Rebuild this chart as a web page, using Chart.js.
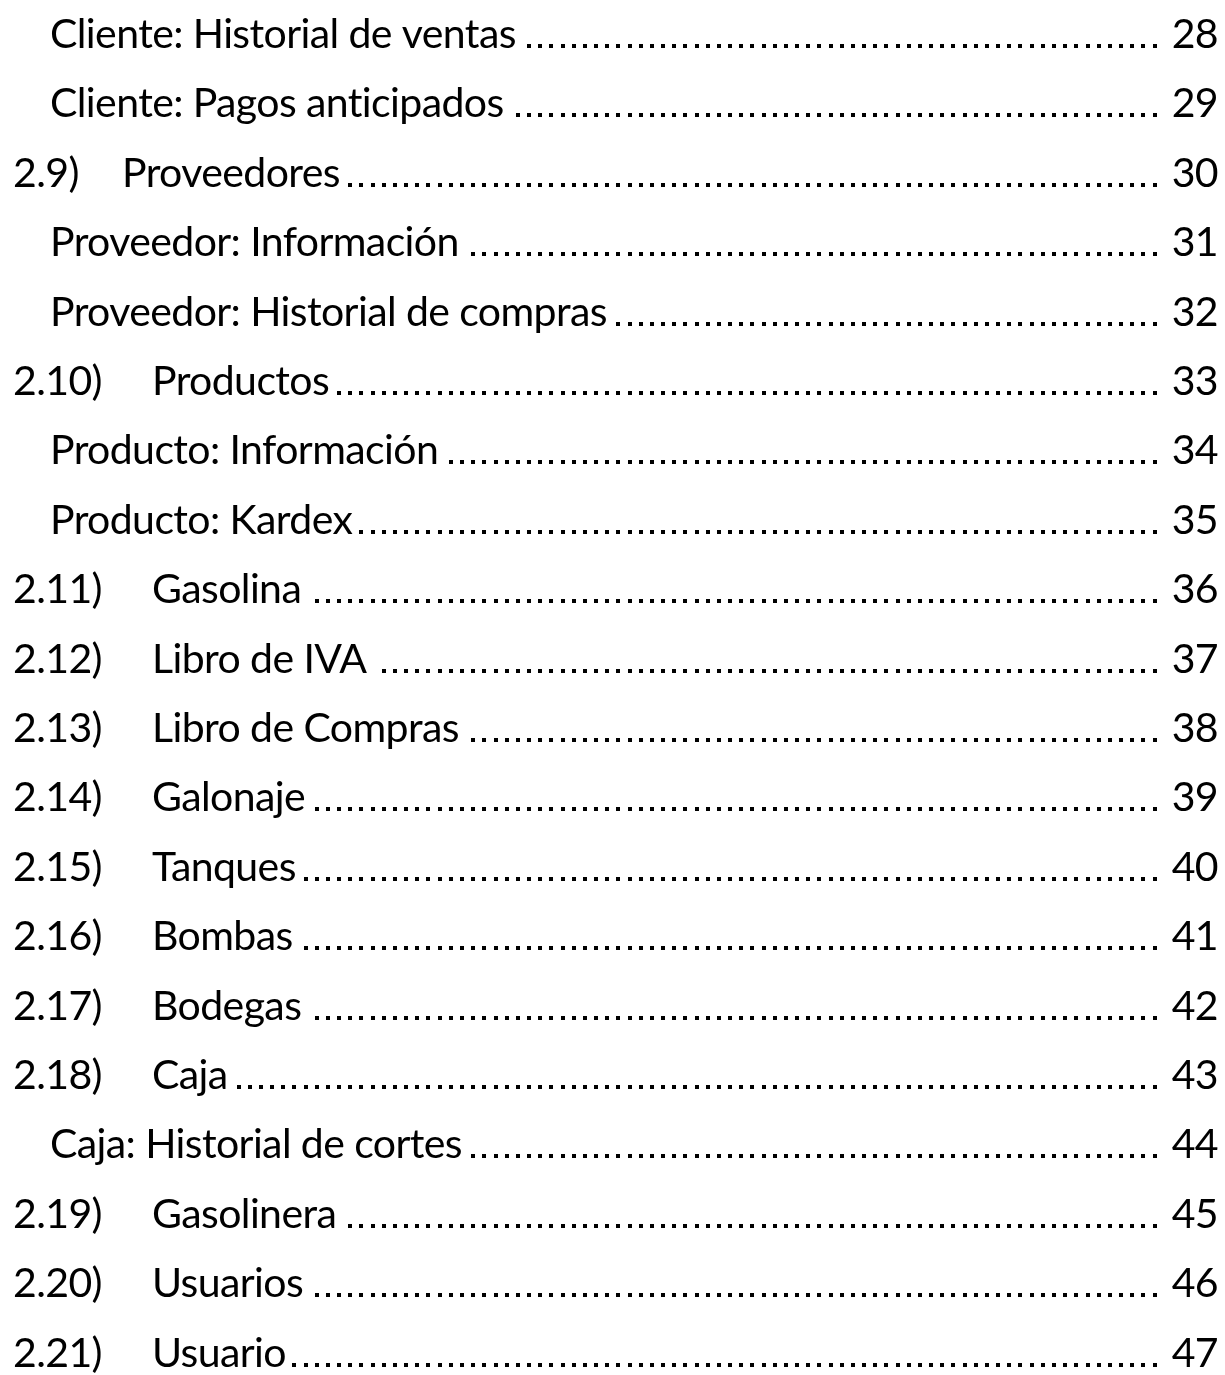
<!DOCTYPE html>
<html lang="es">
<head>
<meta charset="utf-8">
<title>Índice</title>
<script src="https://cdn.jsdelivr.net/npm/chart.js@4.4.1/dist/chart.umd.min.js"></script>
<style>
    html, body { margin: 0; padding: 0; background: #fff; }
    #toc { display: block; }
</style>
</head>
<body>
<canvas id="toc" width="1225" height="1375"></canvas>
<script>
// Table of contents entries
const numeros = ['', '', '2.9)', '', '', '2.10)', '', '', '2.11)', '2.12)', '2.13)', '2.14)', '2.15)', '2.16)', '2.17)', '2.18)', '', '2.19)', '2.20)', '2.21)'];
const titulos = [
    'Cliente: Historial de ventas',
    'Cliente: Pagos anticipados',
    'Proveedores',
    'Proveedor: Información',
    'Proveedor: Historial de compras',
    'Productos',
    'Producto: Información',
    'Producto: Kardex',
    'Gasolina',
    'Libro de IVA',
    'Libro de Compras',
    'Galonaje',
    'Tanques',
    'Bombas',
    'Bodegas',
    'Caja',
    'Caja: Historial de cortes',
    'Gasolinera',
    'Usuarios',
    'Usuario'
];
const paginas = [28, 29, 30, 31, 32, 33, 34, 35, 36, 37, 38, 39, 40, 41, 42, 43, 44, 45, 46, 47];
const niveles = [2, 2, 1, 2, 2, 1, 2, 2, 1, 1, 1, 1, 1, 1, 1, 1, 2, 1, 1, 1];

// Layout (x in page pixels, mapped through the x scale)
const FONT = '41px Lato';
const X_NUM = 13;
const X_SUB = 50;
const X_TITLE_SHORT = 122;
const X_TITLE = 152;
const X_PAGE_RIGHT = 1218;
const DOT_LAST = 1163.7;
const DOT_STEP = 11.17;
const DOT_SIZE = 4;

// Draw each row of the index at its y-scale position
const tocPlugin = {
    id: 'tocRows',
    afterDatasetsDraw(chart) {
        const ctx = chart.ctx;
        const xs = chart.scales.x;
        const ys = chart.scales.y;
        ctx.save();
        ctx.font = FONT;
        // slight tightening, also keeps "ti" from turning into a ligature
        if ('letterSpacing' in ctx) ctx.letterSpacing = '-0.6px';
        ctx.fillStyle = '#000';
        ctx.textBaseline = 'alphabetic';

        titulos.forEach((titulo, i) => {
            const y = ys.getPixelForValue(i);
            let xTitle;
            if (niveles[i] === 1) {
                ctx.textAlign = 'left';
                ctx.fillText(numeros[i], xs.getPixelForValue(X_NUM), y);
                xTitle = numeros[i].length > 4 ? X_TITLE : X_TITLE_SHORT;
            } else {
                xTitle = X_SUB;
            }
            const x0 = xs.getPixelForValue(xTitle);
            ctx.textAlign = 'left';
            ctx.fillText(titulo, x0, y);
            const titleEnd = x0 + ctx.measureText(titulo).width;

            // page number, right aligned
            const pg = String(paginas[i]);
            const xr = xs.getPixelForValue(X_PAGE_RIGHT);
            ctx.textAlign = 'right';
            ctx.fillText(pg, xr, y);
            const pgStart = xr - ctx.measureText(pg).width;

            // dot leader on a fixed grid
            for (let dx = xs.getPixelForValue(DOT_LAST); dx > titleEnd + 6; dx -= DOT_STEP) {
                if (dx + DOT_SIZE > pgStart - 6) continue;
                ctx.fillRect(Math.round(dx), Math.round(y - DOT_SIZE), DOT_SIZE, DOT_SIZE);
            }
        });
        ctx.restore();
    }
};

const puntos = paginas.map((p, i) => ({ x: 0, y: i }));

new Chart(document.getElementById('toc').getContext('2d'), {
    type: 'scatter',
    data: {
        datasets: [{
            label: 'Índice',
            data: puntos,
            pointRadius: 0,
            pointHoverRadius: 0
        }]
    },
    options: {
        responsive: false,
        animation: false,
        events: [],
        layout: { padding: 0 },
        scales: {
            x: { type: 'linear', min: 0, max: 1225, display: false },
            y: { type: 'linear', reverse: true, min: -0.6916, max: 19.1210, display: false }
        },
        plugins: {
            legend: { display: false },
            tooltip: { enabled: false }
        }
    },
    plugins: [tocPlugin]
});
</script>
</body>
</html>
